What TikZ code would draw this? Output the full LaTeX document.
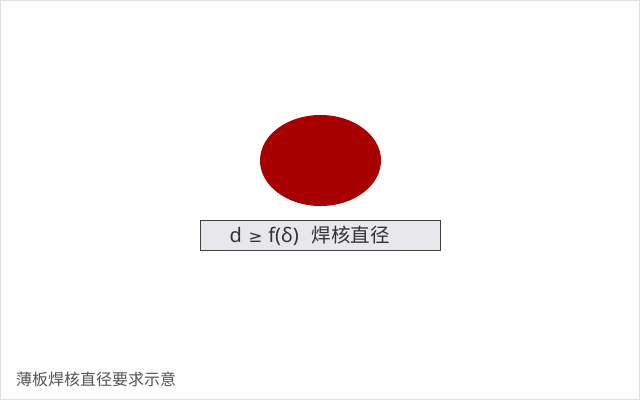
\documentclass[tikz,border=0pt]{standalone}
\usepackage{fontspec}
\setmainfont{Noto Sans CJK SC}
\newfontfamily\latinfont{Noto Sans}
\newfontfamily\symfont{DejaVu Sans}
\definecolor{weld}{HTML}{A60000}
\definecolor{boxfill}{HTML}{E8E8EC}
\definecolor{boxtext}{HTML}{333333}
\definecolor{captext}{HTML}{555555}
\definecolor{frame}{HTML}{E0E0E0}
\begin{document}
\begin{tikzpicture}[x=1pt,y=-1pt,
  labelbox/.style={draw=black!75,line width=0.7pt,fill=boxfill,minimum width=240pt,minimum height=30pt,inner sep=0pt},
  labeltext/.style={anchor=west,inner sep=0pt,text=boxtext,font=\fontsize{19.5}{21}\selectfont},
  caption/.style={anchor=west,inner sep=0pt,text=captext,font=\fontsize{16}{18}\selectfont}]
\useasboundingbox (0,0) rectangle (640,400);
\draw[frame,line width=1pt] (0.5,0.5) rectangle (639.5,399.5);
\fill[weld] (320.5,160.5) ellipse [x radius=60.5pt, y radius=45.5pt];
\node[labelbox] (lbl) at (320.5,235.5) {};
\node[labeltext] (lbltext) at (229.5,235.5) {{\latinfont\fontsize{20}{22}\selectfont d\hspace{6.5pt}{\symfont\fontsize{16.5}{18}\selectfont ≥}\hspace{6pt}f(δ)}\hspace{13pt}焊核直径};
\node[caption] (cap) at (16,379) {薄板焊核直径要求示意};
\end{tikzpicture}
\end{document}
